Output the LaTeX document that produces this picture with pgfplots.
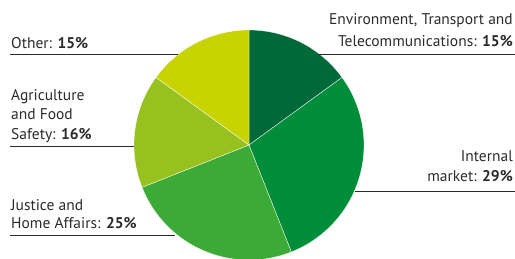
\documentclass[border=0pt]{standalone}
\usepackage{pgfplots}
\usepackage{pgfplotstable}
\pgfplotsset{compat=1.18}
\usepackage{fontspec}
\setmainfont{PT Sans}
\definecolor{cEnv}{HTML}{00693A}
\definecolor{cInt}{HTML}{008D3A}
\definecolor{cJus}{HTML}{3CAA36}
\definecolor{cAgr}{HTML}{96C11F}
\definecolor{cOth}{HTML}{C8D400}
\definecolor{txt}{HTML}{2B2B2B}
\pgfplotstableread{
label value
Env 15
Int 29
Jus 25
Agr 16
Oth 15
}\piedata
\begin{document}
\begin{tikzpicture}
\pgfplotstablegetelem{0}{value}\of\piedata \pgfmathsetmacro{\vA}{\pgfplotsretval}
\pgfplotstablegetelem{1}{value}\of\piedata \pgfmathsetmacro{\vB}{\pgfplotsretval}
\pgfplotstablegetelem{2}{value}\of\piedata \pgfmathsetmacro{\vC}{\pgfplotsretval}
\pgfplotstablegetelem{3}{value}\of\piedata \pgfmathsetmacro{\vD}{\pgfplotsretval}
\pgfplotstablegetelem{4}{value}\of\piedata \pgfmathsetmacro{\vE}{\pgfplotsretval}
\pgfmathsetmacro{\aZ}{90}
\pgfmathsetmacro{\aA}{90-3.6*\vA}
\pgfmathsetmacro{\aB}{\aA-3.6*\vB}
\pgfmathsetmacro{\aC}{\aB-3.6*\vC}
\pgfmathsetmacro{\aD}{\aC-3.6*\vD}
\pgfmathsetmacro{\aE}{\aD-3.6*\vE}
\def\cx{249}\def\cy{114}\def\rr{115}
\begin{axis}[width=515pt, height=259pt, scale only axis,
  xmin=0, xmax=515, ymin=0, ymax=259, hide axis, clip=true,
  every axis plot/.append style={samples=80}]
\addplot[fill=cEnv, draw=white, line width=0.3pt, domain=\aA:\aZ, variable=\t] ({\cx+\rr*cos(t)},{\cy+\rr*sin(t)}) -- (axis cs:\cx,\cy) -- cycle;
\addplot[fill=cInt, draw=white, line width=0.3pt, domain=\aB:\aA, variable=\t] ({\cx+\rr*cos(t)},{\cy+\rr*sin(t)}) -- (axis cs:\cx,\cy) -- cycle;
\addplot[fill=cJus, draw=white, line width=0.3pt, domain=\aC:\aB, variable=\t] ({\cx+\rr*cos(t)},{\cy+\rr*sin(t)}) -- (axis cs:\cx,\cy) -- cycle;
\addplot[fill=cAgr, draw=white, line width=0.3pt, domain=\aD:\aC, variable=\t] ({\cx+\rr*cos(t)},{\cy+\rr*sin(t)}) -- (axis cs:\cx,\cy) -- cycle;
\addplot[fill=cOth, draw=white, line width=0.3pt, domain=\aE:\aD, variable=\t] ({\cx+\rr*cos(t)},{\cy+\rr*sin(t)}) -- (axis cs:\cx,\cy) -- cycle;
% leader lines
\addplot[txt, line width=0.9pt] coordinates {(10,205) (178,205)};
\addplot[txt, line width=0.9pt] coordinates {(10,112.5) (134,112.5)};
\addplot[txt, line width=0.9pt] coordinates {(10,24) (175,24)};
\addplot[txt, line width=0.9pt] coordinates {(318,205) (515,205)};
\addplot[txt, line width=0.9pt] coordinates {(355,68) (515,68)};
\begin{scope}[every node/.style={inner sep=0pt, text=txt, font=\fontsize{15.5}{18}\selectfont}]
\node[anchor=base west] at (axis cs:11,210) {Other: \textbf{15\%}};
\node[anchor=base west] at (axis cs:11,158.5) {Agriculture};
\node[anchor=base west] at (axis cs:11,139) {and Food};
\node[anchor=base west] at (axis cs:11,119.7) {Safety: \textbf{16\%}};
\node[anchor=base west] at (axis cs:11,48) {Justice and};
\node[anchor=base west] at (axis cs:11,30) {Home Affairs: \textbf{25\%}};
\node[anchor=base east] at (axis cs:513,234) {Environment, Transport and};
\node[anchor=base east] at (axis cs:513,212) {Telecommunications: \textbf{15\%}};
\node[anchor=base east] at (axis cs:513,97) {Internal};
\node[anchor=base east] at (axis cs:513,77) {market: \textbf{29\%}};
\end{scope}
\end{axis}
\pgfresetboundingbox
\useasboundingbox (current axis.south west) rectangle (current axis.north east);
\end{tikzpicture}
\end{document}
